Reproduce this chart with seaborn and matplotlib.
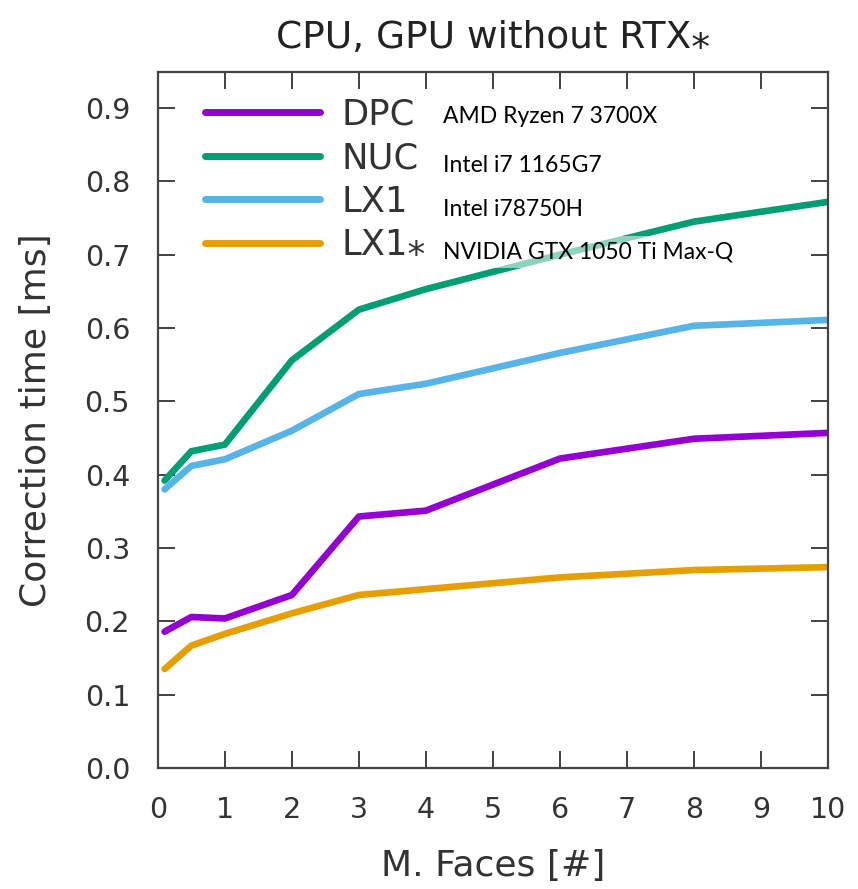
import matplotlib
matplotlib.use("Agg")
import matplotlib.pyplot as plt
import seaborn as sns
import pandas as pd

# data
faces = [0.1, 0.5, 1, 2, 3, 4, 6, 8, 10]
dpc = [0.186, 0.206, 0.204, 0.236, 0.343, 0.351, 0.422, 0.449, 0.457]
nuc = [0.392, 0.432, 0.441, 0.556, 0.625, 0.653, 0.700, 0.745, 0.772]
lx1 = [0.380, 0.412, 0.421, 0.460, 0.510, 0.524, 0.566, 0.603, 0.611]
lx1s = [0.135, 0.167, 0.183, 0.211, 0.236, 0.244, 0.260, 0.270, 0.274]
series_names = ["DPC", "NUC", "LX1", "LX1\u204e"]
hardware = ["AMD Ryzen 7 3700X", "Intel i7 1165G7", "Intel i78750H",
            "NVIDIA GTX 1050 Ti Max-Q"]
colors = ["#9400D3", "#009E73", "#56B4E9", "#E69F00"]

rows = []
for name, vals in zip(series_names, [dpc, nuc, lx1, lx1s]):
    for xv, yv in zip(faces, vals):
        rows.append({"faces": xv, "time": yv, "series": name})
df = pd.DataFrame(rows)

sns.set_theme(style="ticks")
plt.rcParams["font.family"] = ["DejaVu Sans"]

W, H, DPI = 8.58, 8.89, 100
fig = plt.figure(figsize=(W, H), dpi=DPI)
ax = fig.add_axes([0.184, 0.136, 0.781, 0.783])

sns.lineplot(data=df, x="faces", y="time", hue="series", hue_order=series_names,
             palette=colors, linewidth=4.8, ax=ax, legend=True)

ax.set_xlim(0, 10)
ax.set_ylim(0, 0.949)
ax.set_xticks(range(0, 11))
ax.set_yticks([i / 10 for i in range(10)])
ax.set_yticklabels([f"{i/10:.1f}" for i in range(10)])
ax.tick_params(direction="in", length=12.5, width=1.3, top=True, right=True,
               labelsize=20.5, colors="#333333", pad=20)
for s in ax.spines.values():
    s.set_color("#444444")
    s.set_linewidth(1.6)

ax.set_xlabel("M. Faces [#]", fontsize=26, color="#333333")
ax.set_ylabel("Correction time [ms]", fontsize=26, color="#333333")
ax.xaxis.set_label_coords(0.5, -0.116)
ax.yaxis.set_label_coords(-0.156, 0.5)
ax.set_title("CPU, GPU without RTX\u204e", fontsize=27, color="#222222", pad=17)

# legend, tuned so that rows sit at the reference spacing
LFS = 25.5
fs_px = LFS * DPI / 72.0
handles, labels = ax.get_legend_handles_labels()


def make_legend(spacing, anchor):
    lg = ax.legend(handles, labels, loc="upper left", frameon=False, fontsize=LFS,
                   handlelength=115.0 / fs_px, handletextpad=0.62,
                   labelspacing=spacing, borderaxespad=0.0, borderpad=0.0,
                   bbox_to_anchor=anchor, bbox_transform=fig.transFigure)
    for h in lg.get_lines():
        h.set_linewidth(5)
    for t in lg.get_texts():
        t.set_color("#333333")
    return lg


spacing = 0.3
anchor = (0.22, 0.92)
target_x0 = 205.0
target_y0 = H * DPI - 112.0
target_step = 43.7
for _ in range(3):
    leg = make_legend(spacing, anchor)
    fig.canvas.draw()
    r = fig.canvas.get_renderer()
    ext = [ln.get_window_extent(r) for ln in leg.get_lines()]
    ys = [(e.y0 + e.y1) / 2 for e in ext]
    step = (ys[0] - ys[-1]) / (len(ys) - 1)
    spacing += (target_step - step) / fs_px
    dx = target_x0 - ext[0].x0
    dy = target_y0 - ys[0]
    anchor = (anchor[0] + dx / (W * DPI), anchor[1] + dy / (H * DPI))
leg = make_legend(spacing, anchor)

# hardware annotations (semi-transparent white boxes as in the reference)
ann_y = [0.888, 0.822, 0.761, 0.704]
for txt, yv in zip(hardware, ann_y):
    ax.text(4.25, yv, txt, fontsize=16.5, family="Lato", color="black",
            va="center", ha="left", zorder=5,
            bbox=dict(facecolor="white", alpha=0.55, edgecolor="none", pad=4))

fig.savefig("out.png", dpi=DPI)
